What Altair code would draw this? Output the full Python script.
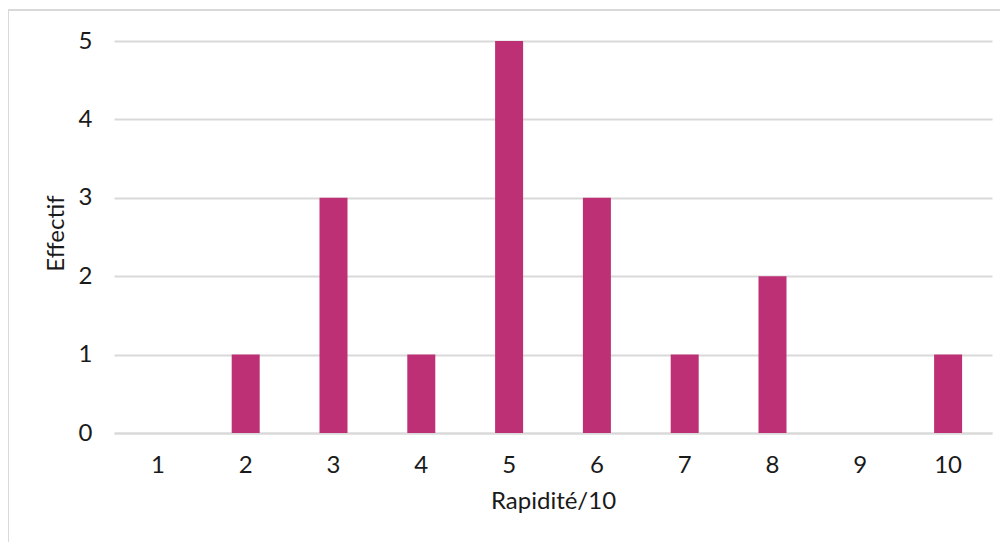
import altair as alt
import pandas as pd

categories = ["1", "2", "3", "4", "5", "6", "7", "8", "9", "10"]
counts = [0, 1, 3, 1, 5, 3, 1, 2, 0, 1]

df = pd.DataFrame({"Rapidité": categories, "Effectif": counts})

FONT = "Lato"
FS = 24
TXT = "#1a1a1a"

bars = alt.Chart(df).mark_bar(color="#BE3075", width=28).encode(
    x=alt.X("Rapidité:N", sort=categories,
            scale=alt.Scale(paddingInner=0, paddingOuter=0),
            axis=alt.Axis(title="Rapidité/10", labelAngle=0, ticks=False,
                          domain=True, domainColor="#d9d9d9", domainWidth=2,
                          labelPadding=32, labelBaseline="middle",
                          labelFontSize=FS, labelColor=TXT,
                          labelFont=FONT, titleFont=FONT, titleFontSize=FS,
                          titleFontWeight="normal", titleColor=TXT,
                          titleY=68, titleBaseline="middle")),
    y=alt.Y("Effectif:Q", scale=alt.Scale(domain=[0, 5], nice=False),
            axis=alt.Axis(title="Effectif", values=[0, 1, 2, 3, 4, 5], ticks=False,
                          domain=False, grid=True, gridColor="#d9d9d9", gridWidth=2,
                          labelPadding=22, labelFontSize=FS, labelColor=TXT,
                          labelFont=FONT, titleFont=FONT, titleFontSize=FS,
                          titleFontWeight="normal", titleColor=TXT,
                          titleX=-58, titleY=192, titleAngle=270,
                          titleBaseline="middle", titleAlign="center")),
)

border = alt.Chart(pd.DataFrame({"a": [0]})).mark_rect(
    fill=None, stroke="#d9d9d9", strokeWidth=2
).encode(
    x=alt.value(-106), x2=alt.value(920),
    y=alt.value(-31), y2=alt.value(560),
)

chart = alt.layer(border, bars).properties(
    width=878, height=392,
    autosize=alt.AutoSizeParams(type="none"),
    padding={"left": 106, "top": 33, "right": 8, "bottom": 110},
).configure_view(stroke=None)

chart.save("out.html", embed_options={"renderer": "svg", "actions": False})
